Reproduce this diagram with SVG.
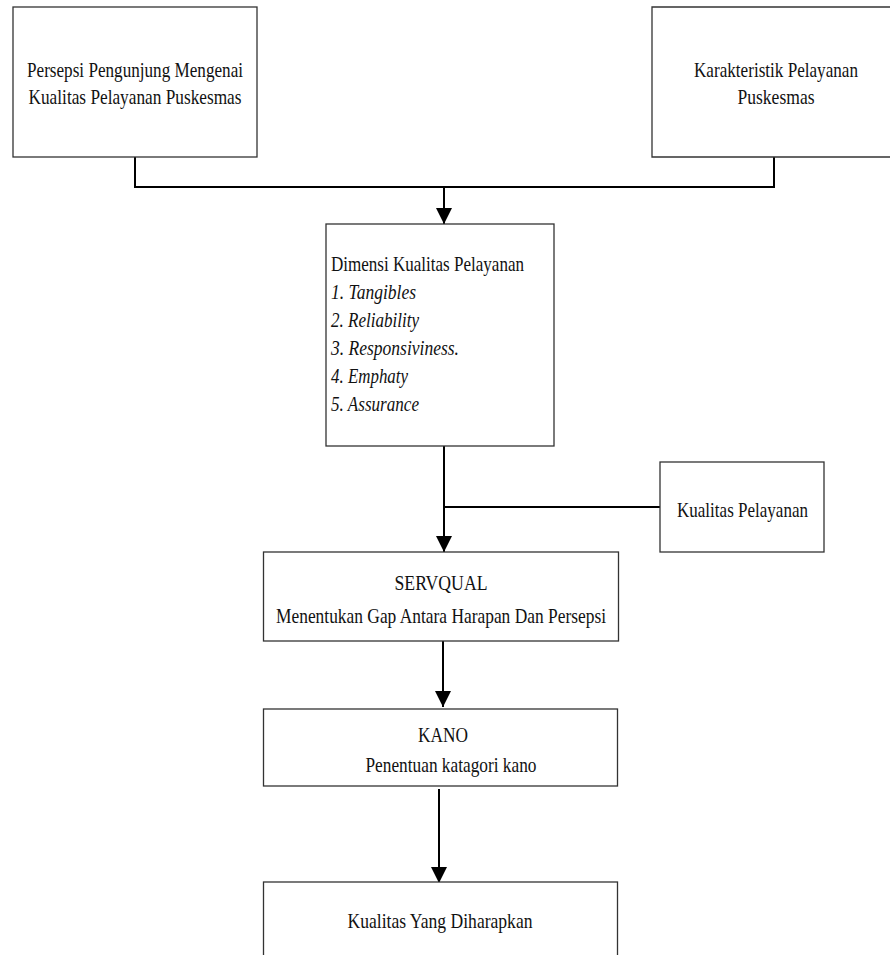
<svg xmlns="http://www.w3.org/2000/svg" width="890" height="955" viewBox="0 0 890 955">
<style>
.box{fill:#fff;stroke:#333;stroke-width:1.3}
.t{font-family:"Liberation Serif","Times New Roman",serif;font-size:21px;fill:#111}
.c{text-anchor:middle}
.i{font-style:italic}
.con{fill:none;stroke:#000;stroke-width:2}
</style>
<defs>
<marker id="ah" viewBox="0 0 16 16" refX="16" refY="8" markerWidth="16" markerHeight="16" markerUnits="userSpaceOnUse" orient="auto">
<path d="M0,0 L16,8 L0,16 z" fill="#000"/>
</marker>
</defs>
<rect width="890" height="955" fill="#fff"/>
<g id="connectors">
<path class="con" d="M135,157 V187 H774 V157"/>
<path class="con" d="M444,187 V224" marker-end="url(#ah)"/>
<path class="con" d="M444,446 V552" marker-end="url(#ah)"/>
<path class="con" d="M660,507 H445" style="stroke-width:1.8"/>
<path class="con" d="M443,628 V707" marker-end="url(#ah)"/>
<path class="con" d="M439,789 V883" marker-end="url(#ah)"/>
</g>
<g id="node-persepsi">
<rect class="box" x="13" y="7" width="244" height="150"/>
<text class="t c" x="135" y="77" textLength="216" lengthAdjust="spacingAndGlyphs">Persepsi Pengunjung Mengenai</text>
<text class="t c" x="135" y="104" textLength="213" lengthAdjust="spacingAndGlyphs">Kualitas Pelayanan Puskesmas</text>
</g>
<g id="node-karakteristik">
<path class="box" d="M890,7 H652 V157 H890"/>
<text class="t c" x="776" y="77" textLength="164" lengthAdjust="spacingAndGlyphs">Karakteristik Pelayanan</text>
<text class="t c" x="776" y="104" textLength="77" lengthAdjust="spacingAndGlyphs">Puskesmas</text>
</g>
<g id="node-dimensi">
<rect class="box" x="326" y="224" width="228" height="222"/>
<text class="t" x="331" y="271" textLength="193" lengthAdjust="spacingAndGlyphs">Dimensi Kualitas Pelayanan</text>
<text class="t i" x="331" y="299" textLength="85" lengthAdjust="spacingAndGlyphs">1. Tangibles</text>
<text class="t i" x="331" y="327" textLength="88" lengthAdjust="spacingAndGlyphs">2. Reliability</text>
<text class="t i" x="331" y="355" textLength="128" lengthAdjust="spacingAndGlyphs">3. Responsiviness.</text>
<text class="t i" x="331" y="383" textLength="77" lengthAdjust="spacingAndGlyphs">4. Emphaty</text>
<text class="t i" x="331" y="411" textLength="88" lengthAdjust="spacingAndGlyphs">5. Assurance</text>
</g>
<g id="node-kualitas-pelayanan">
<rect class="box" x="660" y="462" width="164" height="90"/>
<text class="t c" x="742.5" y="517" textLength="131" lengthAdjust="spacingAndGlyphs">Kualitas Pelayanan</text>
</g>
<g id="node-servqual">
<rect class="box" x="263.5" y="552" width="355" height="89"/>
<text class="t c" x="441" y="590" textLength="93" lengthAdjust="spacingAndGlyphs">SERVQUAL</text>
<text class="t c" x="441" y="623" textLength="330" lengthAdjust="spacingAndGlyphs">Menentukan Gap Antara Harapan Dan Persepsi</text>
</g>
<g id="node-kano">
<rect class="box" x="263.5" y="709" width="354" height="77"/>
<text class="t c" x="443" y="742" textLength="50" lengthAdjust="spacingAndGlyphs">KANO</text>
<text class="t c" x="451" y="772" textLength="171" lengthAdjust="spacingAndGlyphs">Penentuan katagori kano</text>
</g>
<g id="node-diharapkan">
<rect class="box" x="263.5" y="882" width="354" height="100"/>
<text class="t c" x="440" y="928" textLength="185" lengthAdjust="spacingAndGlyphs">Kualitas Yang Diharapkan</text>
</g>
</svg>
